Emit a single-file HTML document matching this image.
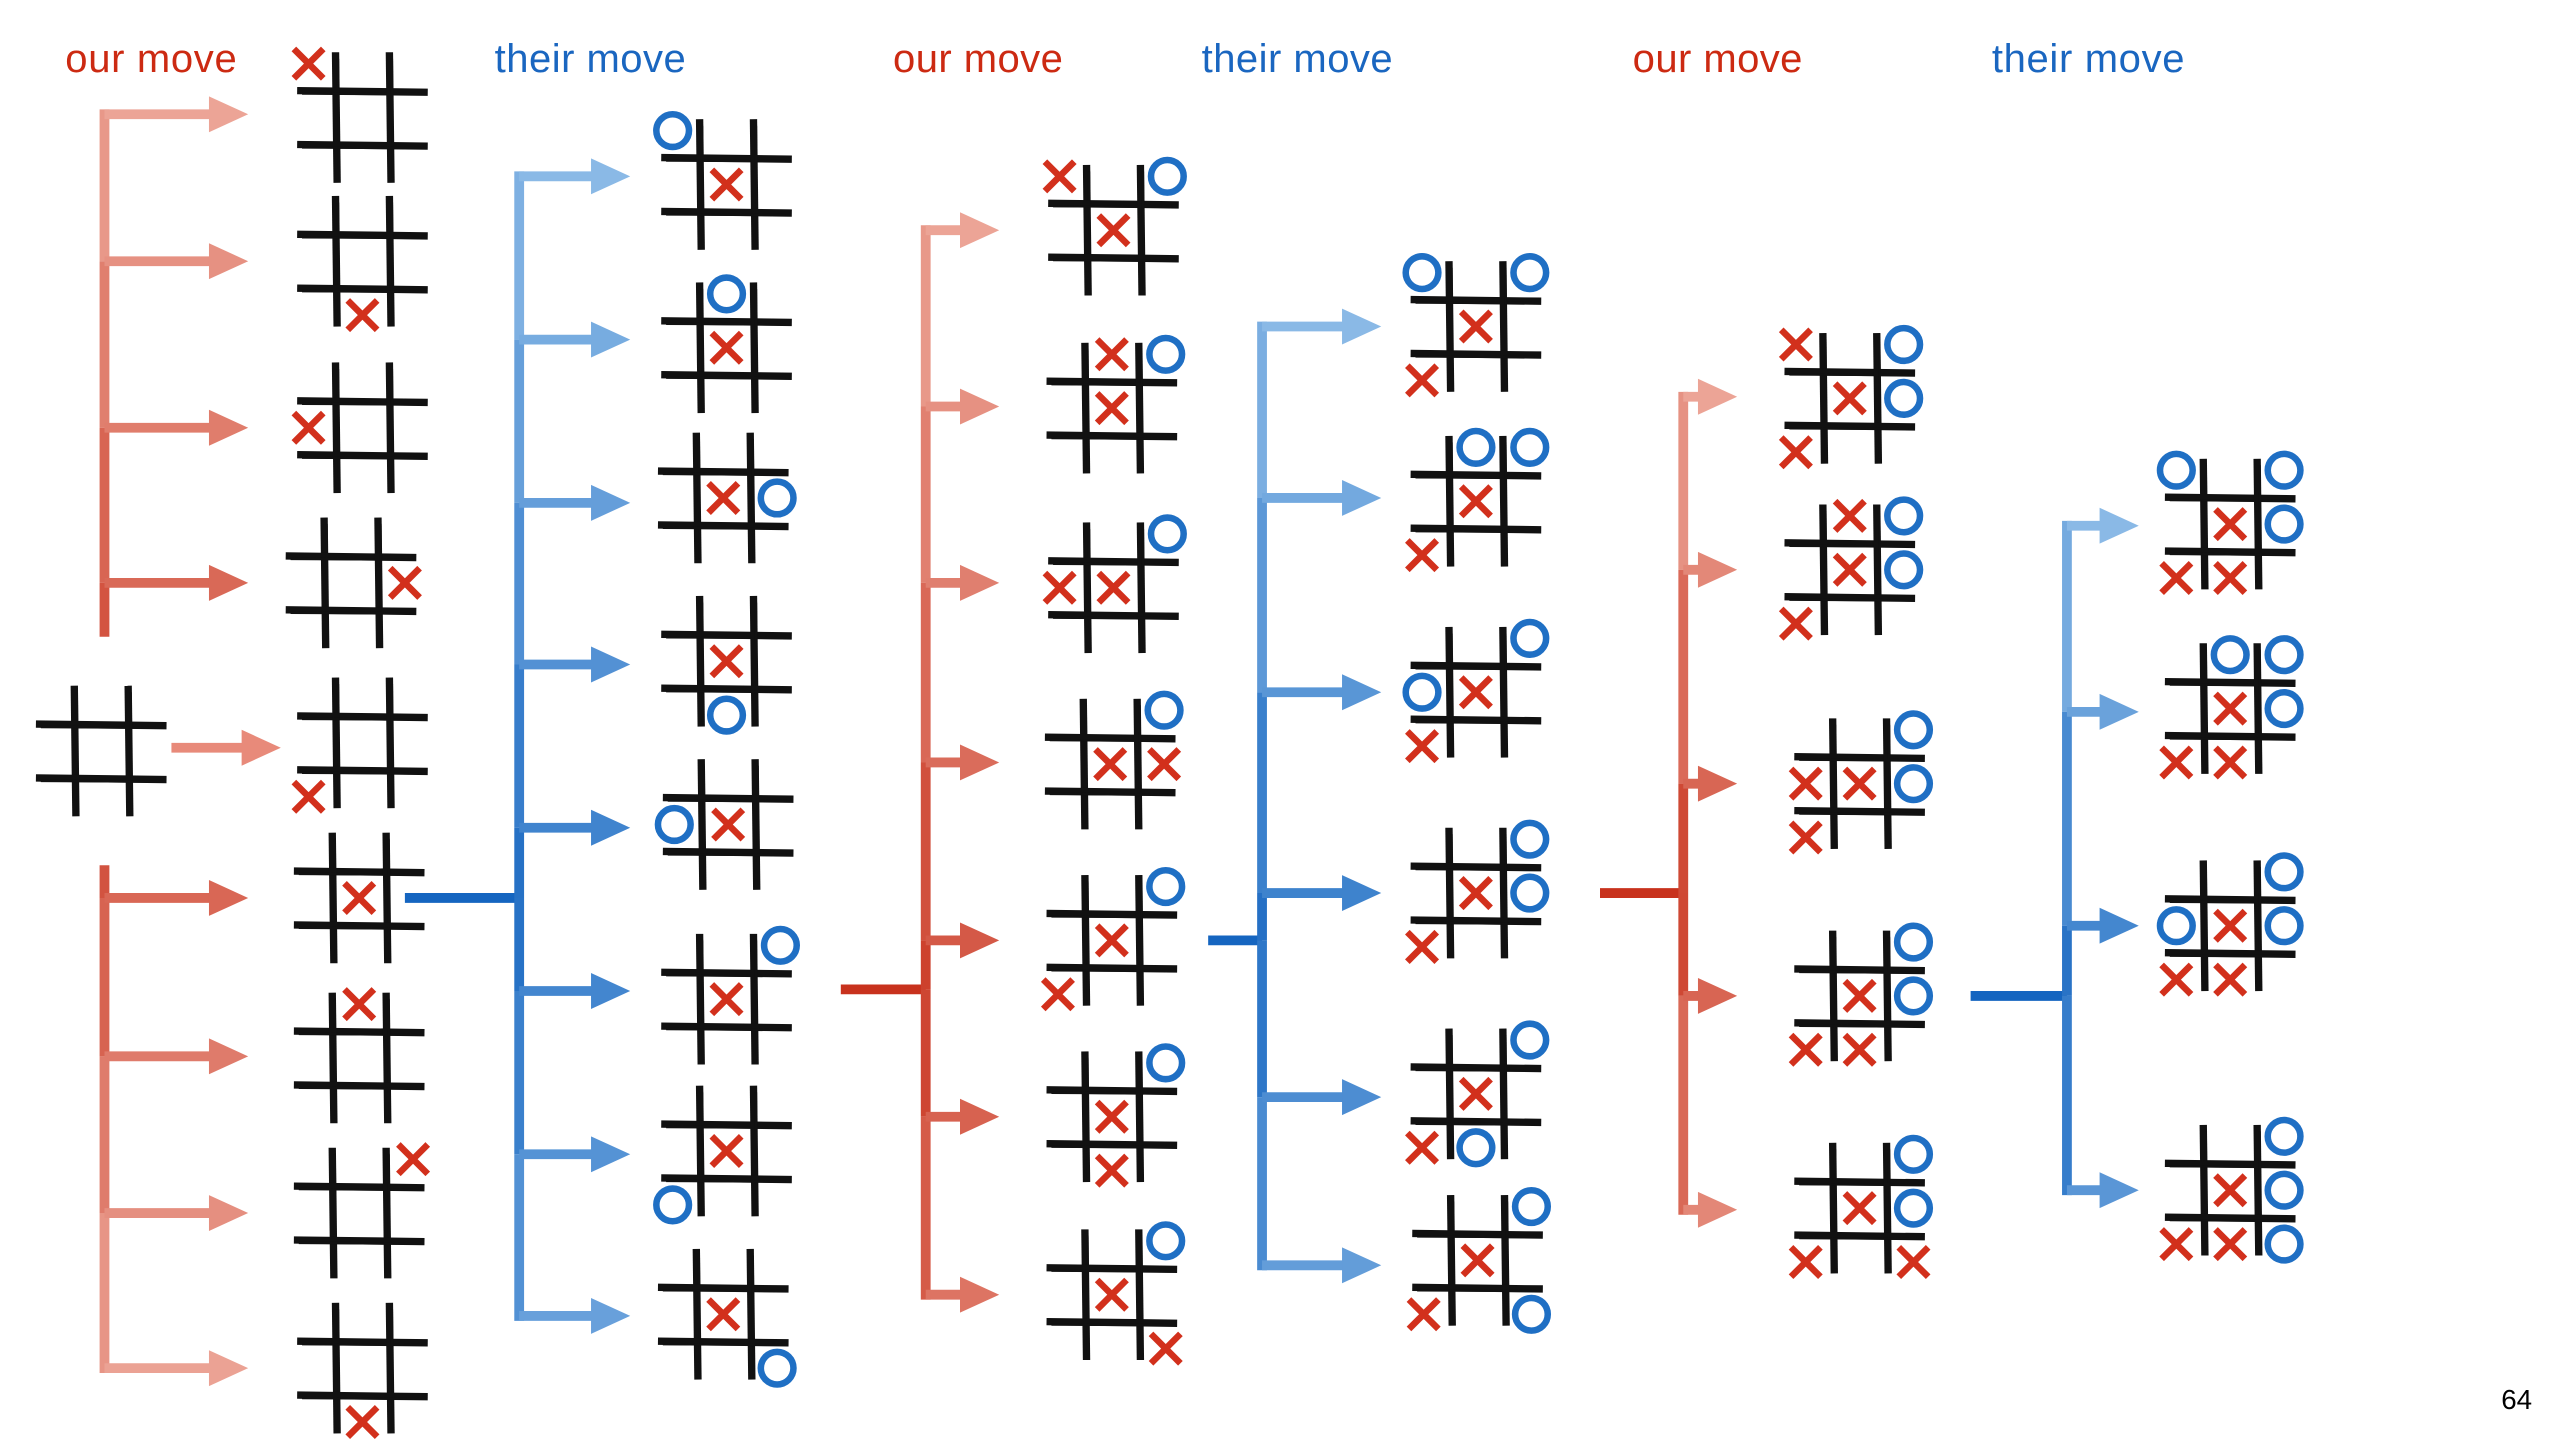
<!DOCTYPE html>
<html><head><meta charset="utf-8"><style>
html,body{margin:0;padding:0;background:#fff;}
svg{display:block;}
text{font-family:"Liberation Sans",sans-serif;}
</style></head><body>
<svg id="s" width="2560" height="1440" viewBox="0 0 1568 882" xmlns="http://www.w3.org/2000/svg">
<g font-size="24.5">
<text x="40" y="44" fill="#cc2a12" textLength="105">our move</text>
<text x="303" y="44" fill="#1a66c0" textLength="117">their move</text>
<text x="547" y="44" fill="#cc2a12" textLength="104">our move</text>
<text x="736" y="44" fill="#1a66c0" textLength="117">their move</text>
<text x="1000" y="44" fill="#cc2a12" textLength="104">our move</text>
<text x="1220" y="44" fill="#1a66c0" textLength="118">their move</text>
</g>
<text x="1532" y="863" font-size="17" fill="#000">64</text>
<g id="g"></g>
</svg>
<script>
var NS="http://www.w3.org/2000/svg",G=document.getElementById('g');
function el(t,a){var e=document.createElementNS(NS,t);for(var k in a)e.setAttribute(k,a[k]);G.appendChild(e);return e;}
function hex(c){return[parseInt(c.substr(1,2),16),parseInt(c.substr(3,2),16),parseInt(c.substr(5,2),16)];}
function mix(a,b,t){a=hex(a);b=hex(b);return 'rgb('+a.map(function(v,i){return Math.round(v+(b[i]-v)*t)}).join(',')+')';}
function tree(rx,ry,tx,ys,ex,dark,light,gap){
  var maxd=0;ys.forEach(function(y){maxd=Math.max(maxd,Math.abs(y-ry))});
  function col(d,m){return mix(dark,light,Math.min(1,m+(1-m)*d/maxd));}
  if(rx!==null) el('line',{x1:rx,y1:ry,x2:tx,y2:ry,stroke:dark,'stroke-width':6});
  var pts=ys.concat([ry]).sort(function(a,b){return a-b});
  for(var i=0;i<pts.length-1;i++){
    var a=pts[i],b=pts[i+1];
    if(gap){ if(b===ry){b=gap[0];} if(a===ry){a=gap[1];} if(a>=b)continue;}
    var d=Math.abs((a+b)/2-ry);
    el('line',{x1:tx,y1:a-(i==0?3:0),x2:tx,y2:b+(i==pts.length-2?3:0),stroke:col(d,0.1),'stroke-width':6});
  }
  ys.forEach(function(y){
    var c=col(Math.abs(y-ry),0.3);
    el('line',{x1:tx,y1:y,x2:ex-20,y2:y,stroke:c,'stroke-width':6});
    el('polygon',{points:(ex-24)+','+(y-11)+' '+ex+','+y+' '+(ex-24)+','+(y+11),fill:c});
  });
}
function board(cx,cy,marks){
  var s=16.5,L=40;
  [-s,s].forEach(function(o){
    el('line',{x1:cx+o,y1:cy-L,x2:cx+o+1,y2:cy+L,stroke:'#111','stroke-width':4.5});
    el('line',{x1:cx+o+1.5,y1:cy-L+4,x2:cx+o+2,y2:cy+L-3,stroke:'#111','stroke-width':1.5});
    el('line',{x1:cx-L,y1:cy+o,x2:cx+L,y2:cy+o+1,stroke:'#111','stroke-width':4.5});
    el('line',{x1:cx-L+3,y1:cy+o+1.8,x2:cx+L-4,y2:cy+o+2.2,stroke:'#111','stroke-width':1.5});
  });
  (marks||'').split(' ').forEach(function(m){
    if(!m)return;var t=m[0],i=+m[1],x=cx+((i%3)-1)*33,y=cy+(Math.floor(i/3)-1)*33;
    if(t=='x'){
      el('line',{x1:x-9,y1:y-9,x2:x+9,y2:y+9,stroke:'#d2301c','stroke-width':4});
      el('line',{x1:x+9,y1:y-9,x2:x-9,y2:y+9,stroke:'#d2301c','stroke-width':4});
    }else{
      el('circle',{cx:x,cy:y,r:10,fill:'none',stroke:'#1f6fc4','stroke-width':4});
    }
  });
}
tree(null,458,64,[70,160,262,357,550,647,743,838],152,'#c8321d','#eca496',[390,530]);
el('line',{x1:105,y1:458,x2:150,y2:458,stroke:'#e88a7a','stroke-width':6});
el('polygon',{points:'148,447 172,458 148,469',fill:'#e88a7a'});
tree(248,550,318,[108,208,308,407,507,607,707,806],386,'#1565c0','#8ab9e6');
tree(515,606,567,[141,249,357,467,576,684,793],612,'#c8321d','#eca496');
tree(740,576,773,[200,305,424,547,672,775],846,'#1565c0','#8ab9e6');
tree(980,547,1031,[243,349,480,610,741],1064,'#c8321d','#eca496');
tree(1207,610,1266,[322,436,567,729],1310,'#1565c0','#8ab9e6');
board(62,460,'');
var c1=[[222,72,'x0'],[222,160,'x7'],[222,262,'x3'],[215,357,'x5'],[222,455,'x6'],[220,550,'x4'],[220,648,'x1'],[220,743,'x2'],[222,838,'x7']];
c1.forEach(function(b){board(b[0],b[1],b[2])});
var c2=[[445,113,'o0 x4'],[445,213,'o1 x4'],[443,305,'x4 o5'],[445,405,'x4 o7'],[446,505,'o3 x4'],[445,612,'o2 x4'],[445,705,'x4 o6'],[443,805,'x4 o8']];
c2.forEach(function(b){board(b[0],b[1],b[2])});
var c3=[[682,141,'x0 o2 x4'],[681,250,'x1 o2 x4'],[682,360,'o2 x3 x4'],[680,468,'o2 x4 x5'],[681,576,'o2 x4 x6'],[681,684,'o2 x4 x7'],[681,793,'o2 x4 x8']];
c3.forEach(function(b){board(b[0],b[1],b[2])});
var c4=[[904,200,'o0 o2 x4 x6'],[904,307,'o1 o2 x4 x6'],[904,424,'o2 o3 x4 x6'],[904,547,'o2 x4 o5 x6'],[904,670,'o2 x4 x6 o7'],[905,772,'o2 x4 x6 o8']];
c4.forEach(function(b){board(b[0],b[1],b[2])});
var c5=[[1133,244,'x0 o2 x4 o5 x6'],[1133,349,'x1 o2 x4 o5 x6'],[1139,480,'o2 x3 x4 o5 x6'],[1139,610,'o2 x4 o5 x6 x7'],[1139,740,'o2 x4 o5 x6 x8']];
c5.forEach(function(b){board(b[0],b[1],b[2])});
var c6=[[1366,321,'o0 o2 x4 o5 x6 x7'],[1366,434,'o1 o2 x4 o5 x6 x7'],[1366,567,'o2 o3 x4 o5 x6 x7'],[1366,729,'o2 x4 o5 x6 x7 o8']];
c6.forEach(function(b){board(b[0],b[1],b[2])});
</script>
</body></html>
